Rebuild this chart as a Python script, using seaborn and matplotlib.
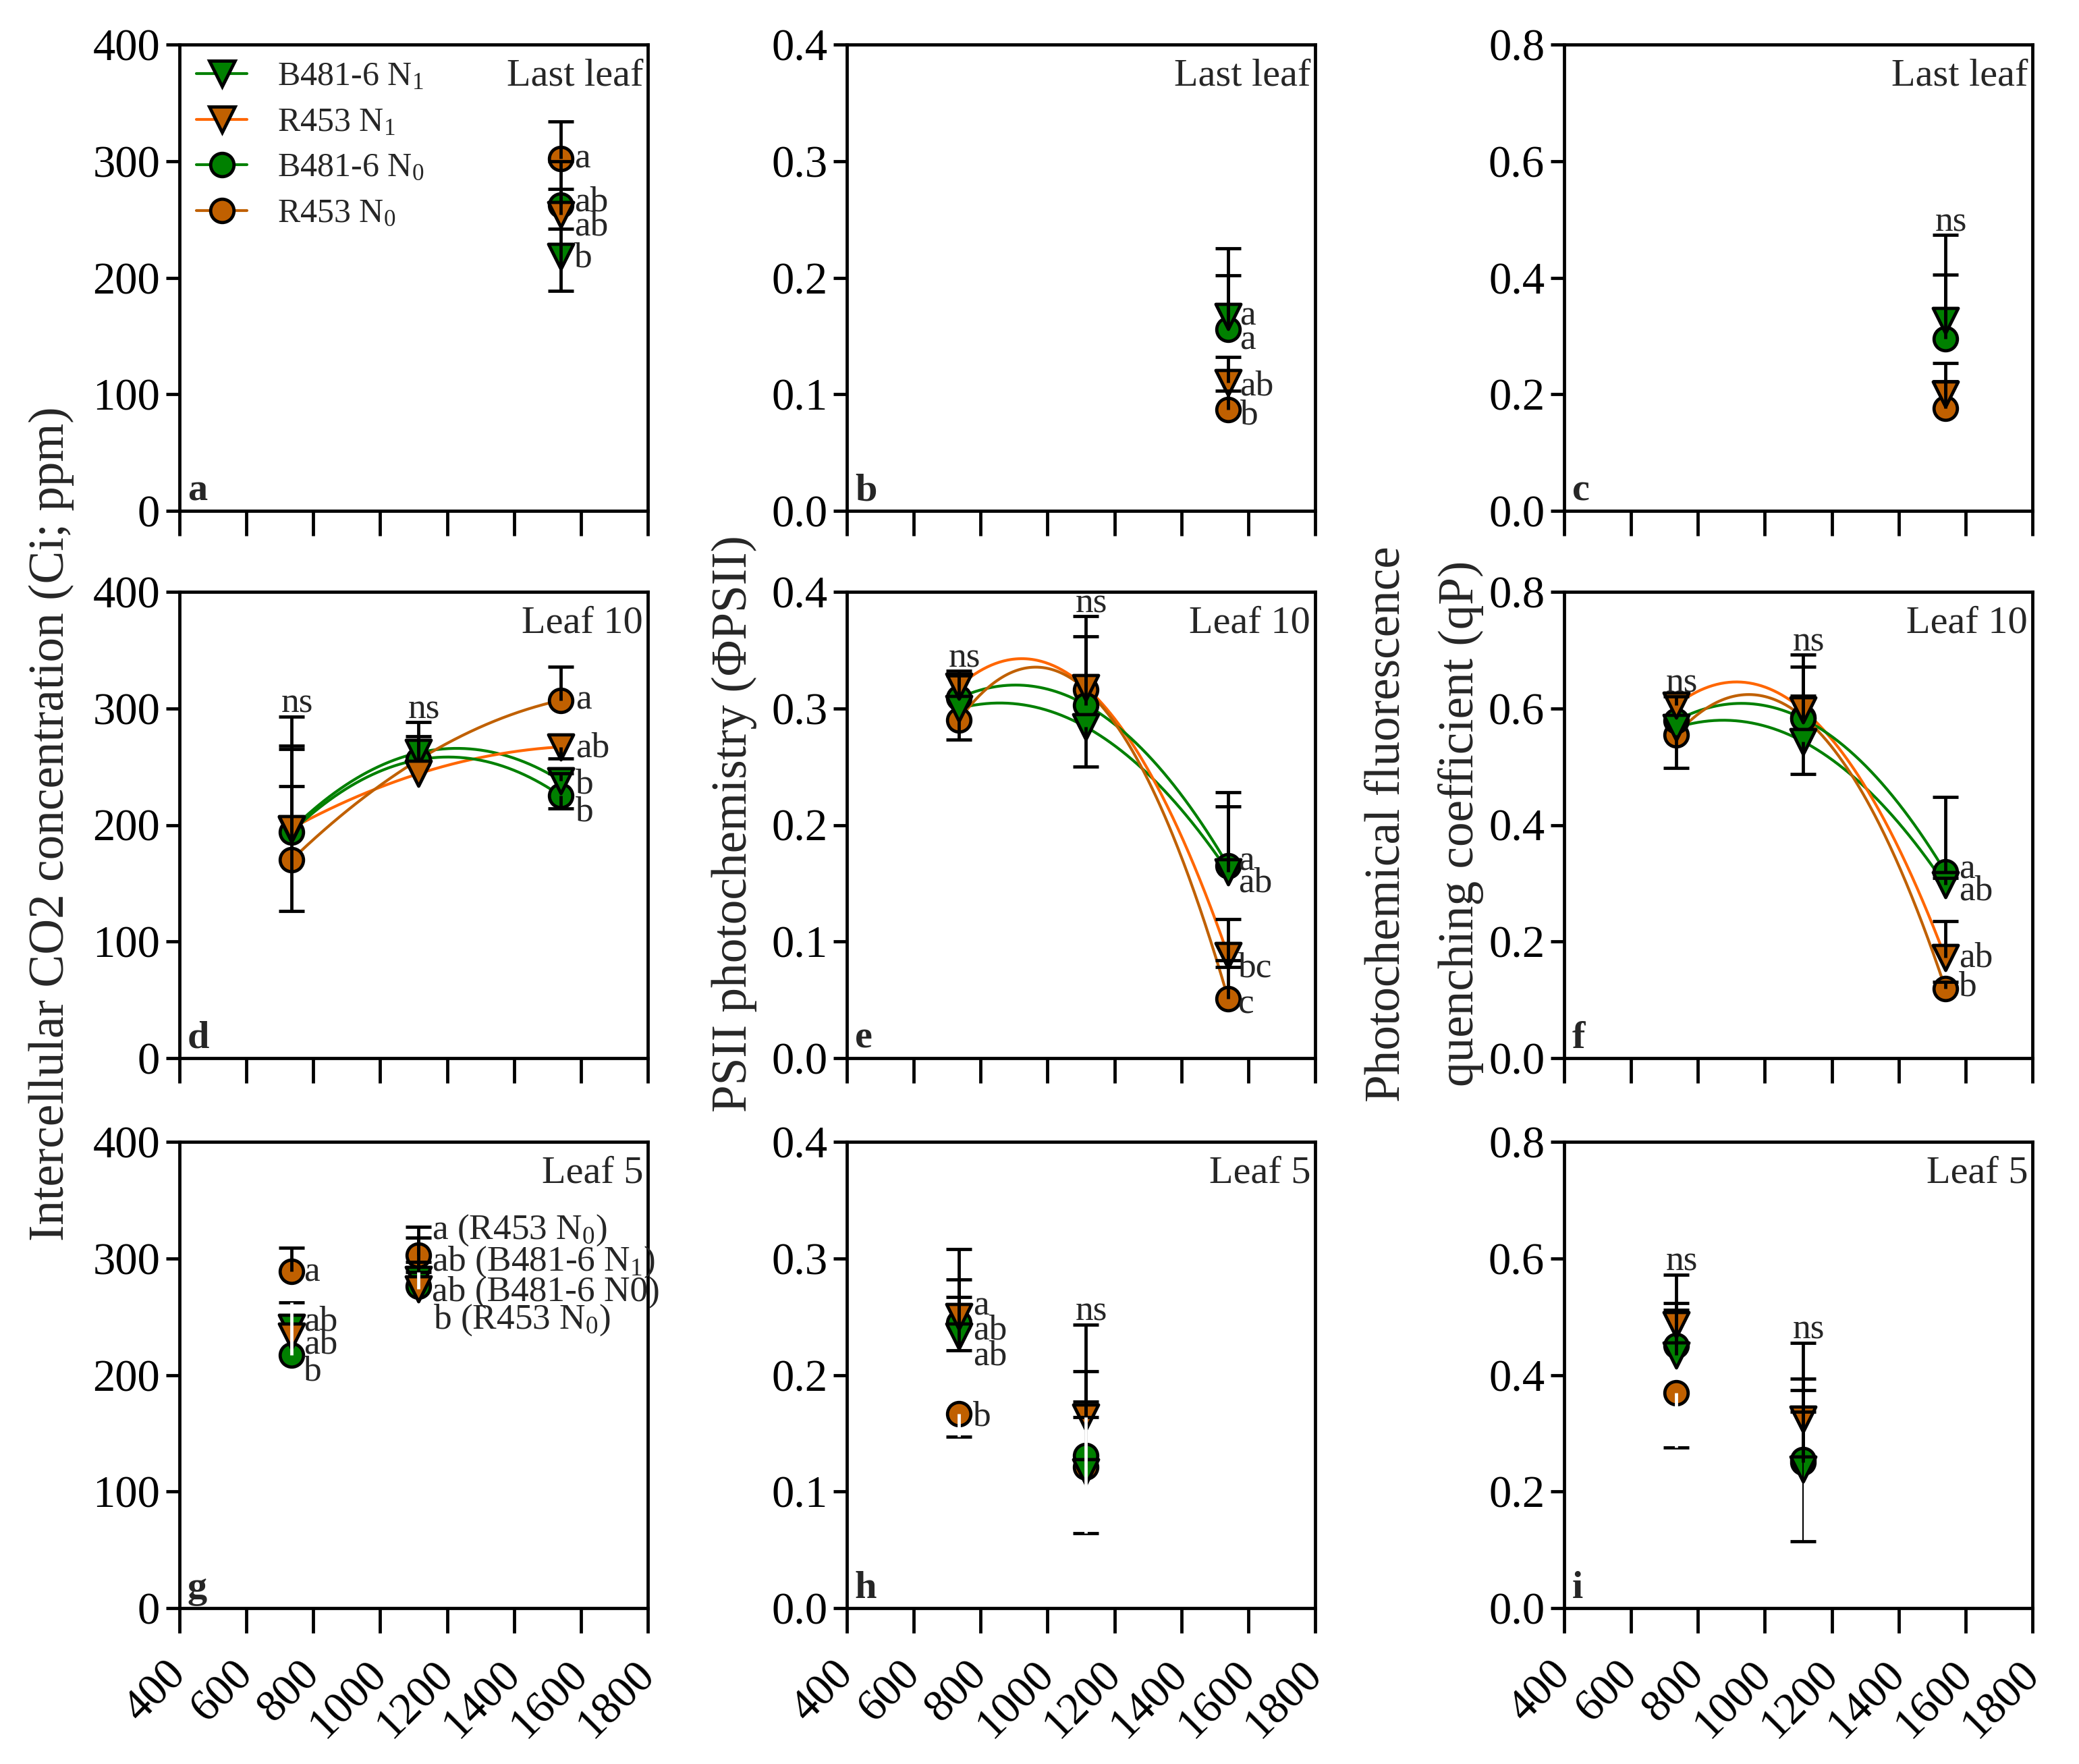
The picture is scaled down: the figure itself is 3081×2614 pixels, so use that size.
import numpy as np
import pandas as pd
import matplotlib
matplotlib.use("Agg")
import matplotlib.pyplot as plt
import seaborn as sns
from matplotlib.lines import Line2D

sns.set_theme(style="white")
plt.rcParams['font.family'] = ['Liberation Serif', 'DejaVu Serif']
plt.rcParams['mathtext.fontset'] = 'custom'
plt.rcParams['mathtext.rm'] = 'Liberation Serif'
plt.rcParams['mathtext.it'] = 'Liberation Serif:italic'
plt.rcParams['mathtext.bf'] = 'Liberation Serif:bold'
plt.rcParams['axes.edgecolor'] = 'black'
plt.rcParams['axes.linewidth'] = 1.15

# ---------------- data ----------------
SERIES = ["B481-6 N1", "R453 N1", "B481-6 N0", "R453 N0"]
LEGEND_LABELS = ["B481-6 N$_1$", "R453 N$_1$", "B481-6 N$_0$", "R453 N$_0$"]
DRAW_ORDER = ["R453 N0", "B481-6 N0", "B481-6 N1", "R453 N1"]

x_ticks = [400, 600, 800, 1000, 1200, 1400, 1600, 1800]

# Panel a: Ci, last leaf
ci_last_x = [1540]
ci_last_y = {"B481-6 N1": [218], "R453 N1": [254], "B481-6 N0": [262], "R453 N0": [302]}
ci_last_up = {"B481-6 N1": [24], "R453 N1": [22], "B481-6 N0": [38], "R453 N0": [32]}
ci_last_lo = {"B481-6 N1": [29], "R453 N1": [0], "B481-6 N0": [0], "R453 N0": [0]}

# Panel b: PhiPSII, last leaf
phi_last_x = [1540]
phi_last_y = {"B481-6 N1": [0.167], "R453 N1": [0.110], "B481-6 N0": [0.156], "R453 N0": [0.087]}
phi_last_up = {"B481-6 N1": [0.058], "R453 N1": [0.022], "B481-6 N0": [0.046], "R453 N0": [0.016]}
phi_last_lo = {"B481-6 N1": [0], "R453 N1": [0], "B481-6 N0": [0], "R453 N0": [0]}

# Panel c: qP, last leaf
qp_last_x = [1540]
qp_last_y = {"B481-6 N1": [0.327], "R453 N1": [0.200], "B481-6 N0": [0.295], "R453 N0": [0.176]}
qp_last_up = {"B481-6 N1": [0.146], "R453 N1": [0.022], "B481-6 N0": [0.110], "R453 N0": [0.077]}
qp_last_lo = {"B481-6 N1": [0], "R453 N1": [0], "B481-6 N0": [0], "R453 N0": [0]}

# Panel d: Ci, leaf 10
ci_l10_x = [735, 1115, 1540]
ci_l10_y = {"B481-6 N1": [196, 262, 238], "R453 N1": [197, 244, 267],
            "B481-6 N0": [194, 256, 225], "R453 N0": [170, 256, 307]}
ci_l10_up = {"B481-6 N1": [37, 26, 6], "R453 N1": [71, 0, 0],
             "B481-6 N0": [71, 20, 0], "R453 N0": [123, 0, 29]}
ci_l10_lo = {"B481-6 N1": [0, 0, 0], "R453 N1": [0, 0, 10],
             "B481-6 N0": [0, 0, 11], "R453 N0": [44, 0, 0]}

# Panel e: PhiPSII, leaf 10
phi_l10_x = [735, 1115, 1540]
phi_l10_y = {"B481-6 N1": [0.300, 0.284, 0.160], "R453 N1": [0.319, 0.318, 0.088],
             "B481-6 N0": [0.309, 0.303, 0.165], "R453 N0": [0.290, 0.316, 0.051]}
phi_l10_up = {"B481-6 N1": [0, 0, 0.056], "R453 N1": [0.013, 0, 0.031],
              "B481-6 N0": [0.019, 0.059, 0.063], "R453 N0": [0, 0.063, 0.033]}
phi_l10_lo = {"B481-6 N1": [0, 0.034, 0], "R453 N1": [0, 0, 0.010],
              "B481-6 N0": [0, 0, 0], "R453 N0": [0.017, 0, 0]}

# Panel f: qP, leaf 10
qp_l10_x = [735, 1115, 1540]
qp_l10_y = {"B481-6 N1": [0.567, 0.543, 0.297], "R453 N1": [0.606, 0.597, 0.172],
            "B481-6 N0": [0.579, 0.582, 0.319], "R453 N0": [0.555, 0.585, 0.119]}
qp_l10_up = {"B481-6 N1": [0, 0, 0.012], "R453 N1": [0.015, 0.025, 0.063],
             "B481-6 N0": [0, 0.090, 0.129], "R453 N0": [0, 0.107, 0.012]}
qp_l10_lo = {"B481-6 N1": [0, 0.056, 0], "R453 N1": [0, 0, 0],
             "B481-6 N0": [0, 0, 0], "R453 N0": [0.057, 0, 0]}

# Panel g: Ci, leaf 5
ci_l5_x = [735, 1115]
ci_l5_y = {"B481-6 N1": [241, 282], "R453 N1": [233, 274],
           "B481-6 N0": [217, 276], "R453 N0": [289, 303]}
ci_l5_up = {"B481-6 N1": [0, 36], "R453 N1": [0, 14],
            "B481-6 N0": [45, 21], "R453 N0": [20, 24]}
ci_l5_lo = {"B481-6 N1": [0, 0], "R453 N1": [0, 0],
            "B481-6 N0": [0, 0], "R453 N0": [0, 0]}

# Panel h: PhiPSII, leaf 5
phi_l5_x = [735, 1115]
phi_l5_y = {"B481-6 N1": [0.233, 0.117], "R453 N1": [0.250, 0.164],
            "B481-6 N0": [0.245, 0.131], "R453 N0": [0.167, 0.121]}
phi_l5_up = {"B481-6 N1": [0.034, 0.047], "R453 N1": [0.058, 0.079],
             "B481-6 N0": [0.037, 0.072], "R453 N0": [0, 0.056]}
phi_l5_lo = {"B481-6 N1": [0.012, 0.053], "R453 N1": [0, 0],
             "B481-6 N0": [0, 0], "R453 N0": [0.020, 0]}

# Panel i: qP, leaf 5
qp_l5_x = [735, 1115]
qp_l5_y = {"B481-6 N1": [0.434, 0.238], "R453 N1": [0.486, 0.324],
           "B481-6 N0": [0.450, 0.255], "R453 N0": [0.369, 0.250]}
qp_l5_up = {"B481-6 N1": [0.078, 0.099], "R453 N1": [0.086, 0.131],
            "B481-6 N0": [0.073, 0.139], "R453 N0": [0, 0.124]}
qp_l5_lo = {"B481-6 N1": [0, 0.123], "R453 N1": [0, 0],
            "B481-6 N0": [0, 0], "R453 N0": [0.093, 0]}

# stem styles that differ from the default black stem
stem_style = {("g", "B481-6 N0", 0): "white", ("g", "R453 N1", 1): "white",
              ("h", "R453 N0", 0): "white", ("h", "B481-6 N1", 1): "white",
              ("i", "R453 N0", 0): "white", ("i", "B481-6 N1", 1): "thin"}

# significance letters (x, y, text)
letters = {
    "a": [(1580, 302, "a"), (1580, 265, "ab"), (1580, 244, "ab"), (1580, 217, "b")],
    "b": [(1575, 0.167, "a"), (1575, 0.146, "a"), (1575, 0.107, "ab"), (1575, 0.082, "b")],
    "d": [(1585, 307, "a"), (1585, 266, "ab"), (1585, 235, "b"), (1585, 211, "b")],
    "e": [(1570, 0.169, "a"), (1570, 0.150, "ab"), (1570, 0.077, "bc"), (1570, 0.046, "c")],
    "f": [(1580, 0.324, "a"), (1580, 0.286, "ab"), (1580, 0.172, "ab"), (1580, 0.122, "b")],
    "g": [(772, 288, "a"), (772, 246, "ab"), (772, 226, "ab"), (772, 203, "b"),
          (1155, 324, "a (R453 N$_0$)"), (1155, 297, "ab (B481-6 N$_1$)"),
          (1155, 271, "ab (B481-6 N0)"), (1158, 247, "b (R453 N$_0$)")],
    "h": [(777, 0.259, "a"), (777, 0.238, "ab"), (777, 0.216, "ab"), (777, 0.164, "b")],
}
# "ns" marks: (panel, x)
ns_marks = [("c", 1540), ("d", 735), ("d", 1115), ("e", 735), ("e", 1115),
            ("f", 735), ("f", 1115), ("h", 1115), ("i", 735), ("i", 1115)]

leaf_titles = {"a": "Last leaf", "b": "Last leaf", "c": "Last leaf",
               "d": "Leaf 10", "e": "Leaf 10", "f": "Leaf 10",
               "g": "Leaf 5", "h": "Leaf 5", "i": "Leaf 5"}

panels = {
    "a": (ci_last_x, ci_last_y, ci_last_up, ci_last_lo),
    "b": (phi_last_x, phi_last_y, phi_last_up, phi_last_lo),
    "c": (qp_last_x, qp_last_y, qp_last_up, qp_last_lo),
    "d": (ci_l10_x, ci_l10_y, ci_l10_up, ci_l10_lo),
    "e": (phi_l10_x, phi_l10_y, phi_l10_up, phi_l10_lo),
    "f": (qp_l10_x, qp_l10_y, qp_l10_up, qp_l10_lo),
    "g": (ci_l5_x, ci_l5_y, ci_l5_up, ci_l5_lo),
    "h": (phi_l5_x, phi_l5_y, phi_l5_up, phi_l5_lo),
    "i": (qp_l5_x, qp_l5_y, qp_l5_up, qp_l5_lo),
}
fitted = {"d", "e", "f"}

rows = []
for key, (xs, ys, ups, los) in panels.items():
    for s in SERIES:
        for i, xv in enumerate(xs):
            rows.append(dict(panel=key, series=s, xi=i, x=xv, y=ys[s][i],
                             up=ups[s][i], lo=los[s][i]))
long = pd.DataFrame(rows)

# ---------------- style ----------------
GREEN = "#008000"
BROWN = "#C06000"
ORANGE = "#FF6600"
FILL = {"B481-6 N1": GREEN, "R453 N1": BROWN, "B481-6 N0": GREEN, "R453 N0": BROWN}
LINE_COL = {"B481-6 N1": GREEN, "R453 N1": ORANGE, "B481-6 N0": GREEN, "R453 N0": BROWN}
MARK = {"B481-6 N1": "v", "R453 N1": "v", "B481-6 N0": "o", "R453 N0": "o"}
MSIZE = {"v": 8.9, "o": 8.3}

W, H = 3081, 2614
fig = plt.figure(figsize=(W / 300, H / 300), dpi=300)

lefts = [266, 1255, 2318]
tops = [66, 877, 1692]
AW, AH = 694, 691
ylims = [(0, 400), (0, 0.4), (0, 0.8)]
yticks = [np.arange(0, 401, 100), np.arange(0, 0.41, 0.1), np.arange(0, 0.81, 0.2)]
yfmt = ["{:.0f}", "{:.1f}", "{:.1f}"]
keys = [["a", "b", "c"], ["d", "e", "f"], ["g", "h", "i"]]

FS_TICK = 16
FS_TXT = 12.8

for r in range(3):
    for c in range(3):
        key = keys[r][c]
        ax = fig.add_axes([lefts[c] / W, (H - tops[r] - AH) / H, AW / W, AH / H])
        df = long[long.panel == key]

        if key in fitted:
            for s in SERIES:
                d = df[df.series == s]
                coef = np.polyfit(d.x.values, d.y.values, 2)
                xs = np.linspace(d.x.min(), d.x.max(), 200)
                sns.lineplot(x=xs, y=np.polyval(coef, xs), color=LINE_COL[s],
                             linewidth=1.0, ax=ax, zorder=2)

        for s in DRAW_ORDER:
            d = df[df.series == s]
            m = MARK[s]
            sns.scatterplot(data=d, x="x", y="y", marker=m, s=MSIZE[m] ** 2,
                            color=FILL[s], edgecolor="black", linewidth=1.15,
                            ax=ax, zorder=3, legend=False)

        for s in DRAW_ORDER:
            d = df[df.series == s]
            for _, row in d.iterrows():
                if row.up <= 0 and row.lo <= 0:
                    continue
                style = stem_style.get((key, s, row.xi), "black")
                if style == "white":
                    ax.vlines(row.x, row.y - row.lo, row.y + row.up, colors="white",
                              linewidth=1.15, zorder=5)
                elif style == "thin":
                    ax.vlines(row.x, row.y - row.lo, row.y + row.up, colors="black",
                              linewidth=0.5, zorder=4)
                else:
                    ax.vlines(row.x, row.y - row.lo, row.y + row.up, colors="black",
                              linewidth=1.15, zorder=4)
                caps = []
                if row.up > 0:
                    caps.append(row.y + row.up)
                if row.lo > 0:
                    caps.append(row.y - row.lo)
                ax.plot([row.x] * len(caps), caps, ls="none", marker="_", ms=9.2,
                        mew=1.15, color="black", zorder=4)

        ax.set_xlim(400, 1800)
        ax.set_ylim(*ylims[c])
        ax.set_xticks(x_ticks)
        ax.set_yticks(yticks[c])
        ax.set_yticklabels([yfmt[c].format(v) for v in yticks[c]])
        if r == 2:
            ax.set_xticklabels([str(t) for t in x_ticks], rotation=45, ha="right",
                               va="center", rotation_mode="anchor")
        else:
            ax.set_xticklabels([])
        ax.set_xlabel("")
        ax.set_ylabel("")
        ax.tick_params(axis="y", direction="out", length=4.7, width=1.15, pad=2.2,
                       labelsize=FS_TICK, left=True, colors="black")
        ax.tick_params(axis="x", direction="out", length=8.8, width=1.15, pad=12.5,
                       labelsize=FS_TICK, bottom=True, colors="black")
        for sp in ax.spines.values():
            sp.set_visible(True)
            sp.set_color("black")
            sp.set_linewidth(1.15)
        ax.set_facecolor("white")

        ax.text(0.99, 0.912, leaf_titles[key], transform=ax.transAxes, ha="right",
                va="baseline", fontsize=14)
        ax.text(0.017, 0.022, key, transform=ax.transAxes, ha="left", va="baseline",
                fontsize=14, fontweight="bold")

        for (tx, ty, tt) in letters.get(key, []):
            ax.text(tx, ty, tt, ha="left", va="center", fontsize=FS_TXT, zorder=6)

        for (pk, nx) in ns_marks:
            if pk != key:
                continue
            d = df[df.x == nx]
            top = (d.y + d.up).max()
            ax.annotate("ns", (nx, top), xytext=(2, 1.5), textcoords="offset points",
                        ha="center", va="baseline", fontsize=FS_TXT, zorder=6)

        if key == "a":
            handles = [Line2D([0], [0], color=LINE_COL[s], lw=1.0, marker=MARK[s],
                              markersize=MSIZE[MARK[s]], markerfacecolor=FILL[s],
                              markeredgecolor="black", markeredgewidth=1.15)
                       for s in SERIES]
            ax.legend(handles, LEGEND_LABELS, loc="upper left", frameon=False,
                      fontsize=12, handlelength=1.5, handletextpad=0.9,
                      labelspacing=0.42, borderaxespad=0.2, borderpad=0.3)

fig.text(76 / W, 0.533, "Intercellular CO2 concentration (Ci; ppm)", rotation=90,
         ha="center", va="center", fontsize=17.6)
fig.text(1088 / W, 0.533, "PSII photochemistry (\u03a6PSII)", rotation=90,
         ha="center", va="center", fontsize=17.6)
fig.text(2056 / W, 0.533, "Photochemical fluorescence", rotation=90,
         ha="center", va="center", fontsize=17.6)
fig.text(2165 / W, 0.533, "quenching coefficient (qP)", rotation=90,
         ha="center", va="center", fontsize=17.6)

fig.savefig("out.png", dpi=300, facecolor="white")
